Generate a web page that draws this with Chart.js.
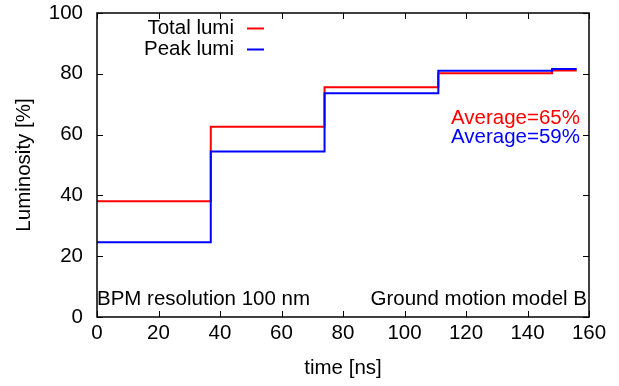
<!DOCTYPE html>
<html>
<head>
<meta charset="utf-8">
<script src="https://cdn.jsdelivr.net/npm/chart.js@4"></script>
<style>
  html, body { margin: 0; padding: 0; background: #fff; }
  #wrap { width: 619px; height: 386px; }
</style>
</head>
<body>
<div id="wrap"><canvas id="mycanvas" width="619" height="386"></canvas></div>
<script>
// step edges in ns, value holds until the next edge
var times = [0, 37, 74, 111, 148, 156];
var totalLumi = [38.1, 62.6, 75.6, 80.2, 81.1, 81.1];
var peakLumi = [24.6, 54.4, 73.6, 81.0, 81.6, 81.6];
var xTicks = [0, 20, 40, 60, 80, 100, 120, 140, 160];
var yTicks = [0, 20, 40, 60, 80, 100];
var notes = ['Average=65%', 'Average=59%'];

var FONT = '"Liberation Sans", Arial, sans-serif';
var FS = 20.5;

function pts(xs, ys) {
    var out = [];
    for (var i in xs) out.push({x: xs[i], y: ys[i]});
    return out;
}

// gnuplot-ish frame, inward ticks, legend and labels
var framePlugin = {
    id: 'frame',
    afterDatasetsDraw: function (chart) {
        var ctx = chart.ctx, a = chart.chartArea;
        var xs = chart.scales.x, ys = chart.scales.y;
        ctx.save();
        ctx.strokeStyle = '#000';
        ctx.lineWidth = 1.5;
        ctx.strokeRect(a.left, a.top, a.right - a.left, a.bottom - a.top);
        ctx.lineWidth = 1;
        ctx.beginPath();
        xTicks.forEach(function (v) {
            var px = Math.round(xs.getPixelForValue(v)) + 0.5;
            ctx.moveTo(px, a.bottom); ctx.lineTo(px, a.bottom - 6);
            ctx.moveTo(px, a.top); ctx.lineTo(px, a.top + 6);
        });
        yTicks.forEach(function (v) {
            var py = Math.round(ys.getPixelForValue(v)) + 0.5;
            ctx.moveTo(a.left, py); ctx.lineTo(a.left + 6, py);
            ctx.moveTo(a.right, py); ctx.lineTo(a.right - 6, py);
        });
        ctx.stroke();

        // legend: text right aligned, then a short line sample
        ctx.font = FS + 'px ' + FONT;
        ctx.textAlign = 'right';
        ctx.textBaseline = 'middle';
        chart.data.datasets.forEach(function (ds, i) {
            var y = 28 + i * 21;
            ctx.fillStyle = '#000';
            ctx.fillText(ds.label, 234, y);
            ctx.strokeStyle = ds.borderColor;
            ctx.lineWidth = 2;
            ctx.beginPath();
            ctx.moveTo(247, y + 0.5); ctx.lineTo(264, y + 0.5);
            ctx.stroke();
        });

        // averages
        ctx.fillStyle = '#ff0000';
        ctx.fillText(notes[0], 580, 118);
        ctx.fillStyle = '#0000ff';
        ctx.fillText(notes[1], 580, 137);

        ctx.fillStyle = '#000';
        ctx.textAlign = 'left';
        ctx.fillText('BPM resolution 100 nm', 97, 299);
        ctx.textAlign = 'right';
        ctx.fillText('Ground motion model B', 587, 299);
        ctx.restore();
    }
};

var ctx = document.getElementById('mycanvas');

var chartdata = {
    datasets: [
        {
            label: 'Total lumi',
            data: pts(times, totalLumi),
            borderColor: '#ff0000',
            borderWidth: 2,
            stepped: 'before',
            pointRadius: 0,
            fill: false,
            order: 1
        },
        {
            label: 'Peak lumi',
            data: pts(times, peakLumi),
            borderColor: '#0000ff',
            borderWidth: 2,
            stepped: 'before',
            pointRadius: 0,
            fill: false,
            order: 0
        }
    ]
};

var lumiChart = new Chart(ctx, {
    type: 'line',
    data: chartdata,
    plugins: [framePlugin],
    options: {
        responsive: false,
        animation: false,
        events: [],
        layout: { padding: { top: 13, right: 30, left: 0, bottom: 0 } },
        plugins: { legend: { display: false }, tooltip: { enabled: false } },
        scales: {
            x: {
                type: 'linear',
                min: 0, max: 160,
                afterBuildTicks: function (s) { s.ticks = xTicks.map(function (v) { return {value: v}; }); },
                afterFit: function (s) { s.height = 69; s.paddingLeft = 0; s.paddingRight = 0; },
                grid: { display: false, drawTicks: false },
                border: { display: false },
                ticks: { color: '#000', font: { family: FONT, size: FS }, padding: 4, maxRotation: 0 },
                title: { display: true, text: 'time [ns]', color: '#000', font: { family: FONT, size: FS }, padding: { top: 2, bottom: 5 } }
            },
            y: {
                min: 0, max: 100,
                afterBuildTicks: function (s) { s.ticks = yTicks.map(function (v) { return {value: v}; }); },
                afterFit: function (s) { s.width = 97; s.paddingTop = 0; s.paddingBottom = 0; },
                grid: { display: false, drawTicks: false },
                border: { display: false },
                ticks: { color: '#000', font: { family: FONT, size: FS }, padding: 14 },
                title: { display: true, text: 'Luminosity [%]', color: '#000', font: { family: FONT, size: FS }, padding: { top: 12, bottom: 0 } }
            }
        }
    }
});
</script>
</body>
</html>
